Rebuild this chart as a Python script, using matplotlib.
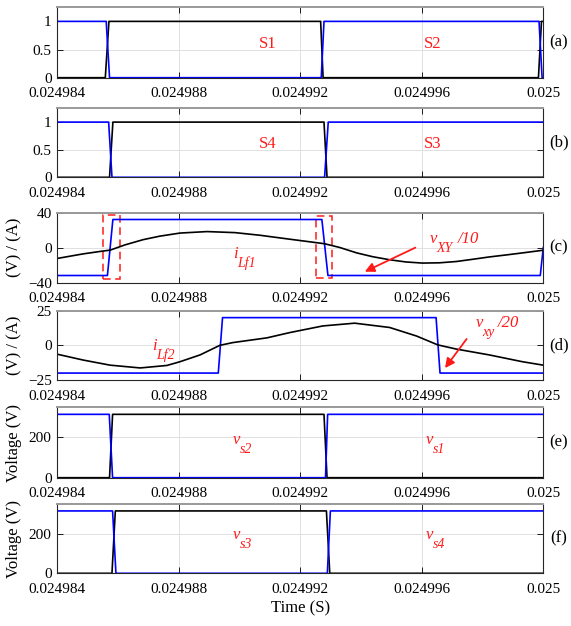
import numpy as np
import matplotlib
matplotlib.use('Agg')
import matplotlib.pyplot as plt
from matplotlib.patches import Rectangle

plt.rcParams['font.family'] = ['Liberation Serif', 'DejaVu Serif']

# время: микросекунды после T0
T0 = 0.024984
T1 = 0.025
xticks = [0.024984, 0.024988, 0.024992, 0.024996, 0.025]
xticklabels = ['0.024984', '0.024988', '0.024992', '0.024996', '0.025']

# (a) S1 (чёрный), S2 (синий)
us_s1 = [0, 1.58, 1.70, 8.67, 8.75, 15.84, 15.94, 16]
s1 = [0, 0, 1, 1, 0, 0, 1, 1]
us_s2 = [0, 1.61, 1.72, 8.69, 8.78, 15.86, 15.96, 16]
s2 = [1, 1, 0, 0, 1, 1, 0, 0]

# (b) S4 (чёрный), S3 (синий)
us_s4 = [0, 1.72, 1.83, 8.78, 8.88, 16]
s4 = [0, 0, 1, 1, 0, 0]
us_s3 = [0, 1.69, 1.80, 8.80, 8.92, 16]
s3 = [1, 1, 0, 0, 1, 1]

# (c) vXY/10 (синий), iLf1 (чёрный)
us_vxy = [0, 1.65, 1.83, 8.71, 8.91, 15.90, 16]
vxy10 = [-32, -32, 32, 32, -32, -32, 0]
us_ilf1 = [0, 0.85, 1.41, 1.74, 2.23, 2.83, 3.38, 4.04, 4.93, 5.85, 6.67, 7.65,
           8.80, 9.30, 9.86, 10.38, 10.94, 11.47, 12.02, 12.58, 13.14, 13.67,
           14.22, 14.78, 15.31, 16.0]
ilf1 = [-12.5, -7.3, -4.5, -3, 3, 9, 13, 16.5, 18.2, 17, 14, 9.5,
        4.3, 0, -6.2, -10.5, -14, -16.5, -17.8, -17.5, -16, -13.5,
        -10.8, -8.5, -6.2, -3.1]

# (d) vxy/20 (синий), iLf2 (чёрный)
us_vxy2 = [0, 5.30, 5.44, 12.47, 12.60, 16]
vxy20 = [-20, -20, 20, 20, -20, -20]
us_ilf2 = [0, 0.85, 1.74, 2.73, 3.61, 4.04, 4.70, 5.35, 5.78, 6.90, 7.65,
           8.74, 9.79, 10.94, 11.83, 12.53, 13.14, 14.22, 15.31, 16.0]
ilf2 = [-6.4, -10.6, -14.3, -16.3, -14.5, -11.8, -6.9, 0, 2, 5.4, 9.2,
        14, 16, 12.9, 6.7, 0.3, -2.7, -6.9, -11.8, -14.3]

# (e) vs2 (чёрный), vs1 (синий)
us_vs2 = [0, 1.72, 1.82, 8.78, 8.88, 16]
vs2 = [0, 0, 315, 315, 0, 0]
us_vs1 = [0, 1.71, 1.82, 8.83, 8.90, 16]
vs1 = [315, 315, 0, 0, 315, 315]

# (f) vs3 (чёрный), vs4 (синий)
us_vs3 = [0, 1.80, 1.91, 8.86, 8.97, 16]
vs3 = [0, 0, 315, 315, 0, 0]
us_vs4 = [0, 1.82, 1.93, 8.89, 8.99, 16]
vs4 = [315, 315, 0, 0, 315, 315]


def t(us):
    return T0 + np.array(us) * 1e-6


W, H = 571, 626
fig = plt.figure(figsize=(W / 100, H / 100), dpi=100)

# границы панелей в пикселях (верх, низ)
panel_px = [(7.3, 77.7), (108.3, 177.3), (212.5, 282.5),
            (310.7, 380.0), (407.3, 477.7), (504.0, 573.3)]
left_px, right_px = 57.3, 543.3

axes = []
for top, bot in panel_px:
    ax = fig.add_axes([left_px / W, 1 - bot / H, (right_px - left_px) / W, (bot - top) / H])
    ax.set_xlim(T0, T1)
    ax.set_xticks(xticks)
    ax.set_xticklabels(xticklabels)
    ax.tick_params(direction='in', top=True, right=True, length=4.5, width=0.7,
                   labelsize=11, color='0.1')
    ax.tick_params(axis='x', pad=7)
    ax.tick_params(axis='y', pad=4)
    ax.grid(True, color='0.88', lw=0.7)
    ax.set_axisbelow(True)
    for sp in ax.spines.values():
        sp.set_color('0.15')
        sp.set_linewidth(0.8)
    ax.spines['top'].set_color('0.6')
    ax.spines['top'].set_linewidth(1.4)
    axes.append(ax)

lw = 1.2
red = '#ff1a1a'
labels = ['(a)', '(b)', '(c)', '(d)', '(e)', '(f)']
for ax, lab in zip(axes, labels):
    ax.text(1.032, 0.5, lab, transform=ax.transAxes, ha='center', va='center', fontsize=12)


# курсивная подпись с нижним индексом: части (текст, dx px, dy px, размер)
def sub_label(ax, x, y, parts):
    for txt, dx, dy, size in parts:
        ax.annotate(txt, (x, y), xytext=(dx * 0.72, dy * 0.72), textcoords='offset points',
                    color=red, fontsize=size, fontstyle='italic', ha='left', va='baseline')


def var_label(ax, x, y, base, sub, dx_sub=7):
    sub_label(ax, x, y, [(base, 0, 0, 12), (sub, dx_sub, -9, 10)])


# (a)
ax = axes[0]
ax.plot(t(us_s1), s1, color='black', lw=lw)
ax.plot(t(us_s2), s2, color='blue', lw=lw)
ax.set_ylim(0, 1.25)
ax.set_yticks([0, 0.5, 1])
ax.set_yticklabels(['0', '0.5', '1'])
ax.text(t(6.93), 0.6, 'S1', color=red, ha='center', va='center', fontsize=12)
ax.text(t(12.35), 0.6, 'S2', color=red, ha='center', va='center', fontsize=12)

# (b)
ax = axes[1]
ax.plot(t(us_s4), s4, color='black', lw=lw)
ax.plot(t(us_s3), s3, color='blue', lw=lw)
ax.set_ylim(0, 1.25)
ax.set_yticks([0, 0.5, 1])
ax.set_yticklabels(['0', '0.5', '1'])
ax.text(t(6.93), 0.6, 'S4', color=red, ha='center', va='center', fontsize=12)
ax.text(t(12.35), 0.6, 'S3', color=red, ha='center', va='center', fontsize=12)

# (c)
ax = axes[2]
ax.plot(t(us_vxy), vxy10, color='blue', lw=lw)
ax.plot(t(us_ilf1), ilf1, color='black', lw=lw)
ax.set_ylim(-40, 40)
ax.set_yticks([-40, 0, 40])
ax.set_ylabel('(V) / (A)', fontsize=12)
var_label(ax, t(5.79), -12.3, 'i', 'Lf1', dx_sub=4)
sub_label(ax, t(12.25), 5.5, [('v', 0, 0, 12), ('XY', 7, -9, 10), ('/10', 28, 0, 12)])
ax.annotate('', xy=(t(10.04), -29), xytext=(t(11.87), 1.2),
            arrowprops=dict(arrowstyle='-|>', color=red, lw=1.3, mutation_scale=14))
for x0, x1, y0, y1 in [(1.50, 2.05, -36, 37.1), (8.51, 9.03, -34.3, 36)]:
    ax.add_patch(Rectangle((t(x0), y0), (x1 - x0) * 1e-6, y1 - y0, fill=False,
                           edgecolor=red, ls=(0, (5, 3)), lw=1.1))

# (d)
ax = axes[3]
ax.plot(t(us_vxy2), vxy20, color='blue', lw=lw)
ax.plot(t(us_ilf2), ilf2, color='black', lw=lw)
ax.set_ylim(-25, 25)
ax.set_yticks([-25, 0, 25])
ax.set_ylabel('(V) / (A)', fontsize=12)
var_label(ax, t(3.11), -3.2, 'i', 'Lf2', dx_sub=4)
sub_label(ax, t(13.79), 12.9, [('v', 0, 0, 12), ('xy', 6, -9, 10), ('/20', 22, 0, 12)])
ax.annotate('', xy=(t(12.71), -18), xytext=(t(13.53), 6.2),
            arrowprops=dict(arrowstyle='-|>', color=red, lw=1.3, mutation_scale=14))

# (e)
ax = axes[4]
ax.plot(t(us_vs2), vs2, color='black', lw=lw)
ax.plot(t(us_vs1), vs1, color='blue', lw=lw)
ax.set_ylim(0, 350)
ax.set_yticks([0, 200])
ax.set_ylabel('Voltage (V)', fontsize=12)
var_label(ax, t(5.79), 170, 'v', 's2')
var_label(ax, t(12.14), 170, 'v', 's1')

# (f)
ax = axes[5]
ax.plot(t(us_vs3), vs3, color='black', lw=lw)
ax.plot(t(us_vs4), vs4, color='blue', lw=lw)
ax.set_ylim(0, 350)
ax.set_yticks([0, 200])
ax.set_ylabel('Voltage (V)', fontsize=12)
ax.set_xlabel('Time (S)', fontsize=12, labelpad=3)
var_label(ax, t(5.79), 171, 'v', 's3')
var_label(ax, t(12.14), 171, 'v', 's4')

for ax in axes:
    ax.yaxis.set_label_coords(-0.072, 0.5)

fig.savefig('out.png', dpi=100)
